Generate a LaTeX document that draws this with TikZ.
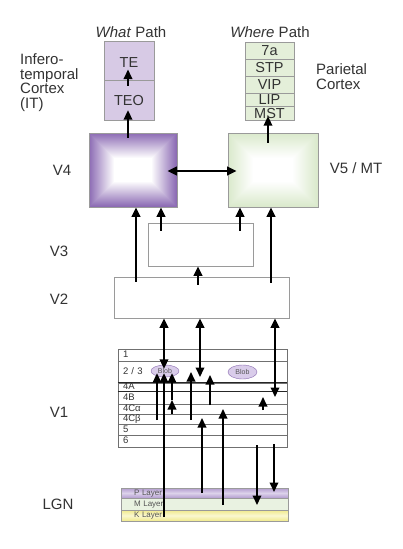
\documentclass[tikz,border=0pt]{standalone}
\usepackage{fontspec}
\setmainfont{Liberation Sans}
\usetikzlibrary{arrows.meta, shapes.geometric, backgrounds}
\definecolor{txtgray}{HTML}{333333}
\definecolor{boxgray}{HTML}{9A9A9A}
\definecolor{rowgray}{HTML}{707070}
\definecolor{itfill}{HTML}{D7CAE5}
\definecolor{parfill}{HTML}{E4EFD9}
\definecolor{vfourpurple}{HTML}{8C6BB4}
\definecolor{vfivegreen}{HTML}{DAE9CC}
\definecolor{blobfill}{HTML}{D9CCEA}
\definecolor{blobline}{HTML}{8A6CB0}
\definecolor{lgnP}{HTML}{B39CD0}
\definecolor{lgnPlight}{HTML}{DCD2EA}
\definecolor{lgnM}{HTML}{E9F2E1}
\definecolor{lgnK}{HTML}{F0E98A}
\definecolor{lgnKlight}{HTML}{FAF7D0}
\definecolor{lgntxt}{HTML}{555555}
\tikzset{
  lbl/.style  ={font=\fontsize{15}{14.5}\selectfont, text=txtgray, inner sep=0pt, align=left},
  cell/.style ={draw=boxgray, inner sep=0pt, text=txtgray, text height=10.5pt, text depth=0pt,
                font=\fontsize{14.5}{15}\selectfont},
  area/.style ={draw=boxgray, line width=0.7pt, inner sep=0pt},
  lyr/.style  ={draw=rowgray, line width=0.5pt, text width=159pt, inner xsep=5pt, inner ysep=0pt,
                align=left, text=txtgray, text height=6.5pt, text depth=1pt, font=\fontsize{9.5}{9.5}\selectfont},
  rule/.style ={line width=1pt, black!85},
  blob/.style ={ellipse, draw=blobline, fill=blobfill, inner sep=0pt, text=lgntxt,
                font=\fontsize{7}{7}\selectfont},
  lgn/.style  ={draw=boxgray, text width=141pt, inner xsep=13pt, inner ysep=0pt, align=left,
                text=lgntxt, text height=5.5pt, text depth=1pt, font=\fontsize{8}{8}\selectfont},
  arr/.style  ={-{Triangle[length=9.5pt,width=8.5pt]}, line width=2pt},
  dbl/.style  ={{Triangle[length=9.5pt,width=8.5pt]}-{Triangle[length=9.5pt,width=8.5pt]}, line width=2pt},
}
\begin{document}
\begin{tikzpicture}[x=1pt, y=-1pt]
  \useasboundingbox (0,0) rectangle (402,549);

  % labels
  \node[lbl] (whatlbl)  at (131,32) {\textit{What} Path};
  \node[lbl] (wherelbl) at (270,32) {\textit{Where} Path};
  \node[lbl, anchor=west] (itlbl)  at (20,82.5) {Infero-\\temporal\\Cortex\\(IT)};
  \node[lbl, anchor=west] (parlbl) at (316,76.5) {Parietal\\Cortex};
  \node[lbl] (vfourlbl) at (62,170)  {V4};
  \node[lbl] (vfivelbl) at (356,168) {V5 / MT};
  \node[lbl] (vthreelbl) at (59,251) {V3};
  \node[lbl] (vtwolbl)  at (59,299)  {V2};
  \node[lbl] (vonelbl)  at (59,412)  {V1};
  \node[lbl] (lgnlbl)   at (58,504)  {LGN};

  % cortex areas
  \node[cell, fill=itfill, minimum width=50pt, minimum height=39pt, text height=14.4pt] (TE) at (129,60.5) {TE};
  \node[cell, fill=itfill, minimum width=50pt, minimum height=40pt] (TEO) at (129,100) {TEO};
  \foreach \nm/\yc/\hh/\txt in {wsa/50.5/17/7a, STP/67.5/17/STP, VIP/84.5/17/VIP, LIP/99.5/13/LIP, MST/113/14/MST}
    \node[cell, fill=parfill, minimum width=49pt, minimum height=\hh pt] (\nm) at (269.5,\yc) {\txt};

  \node[area, minimum width=88pt,  minimum height=74pt] (V4) at (133,170) {};
  \node[area, minimum width=90pt,  minimum height=74pt] (V5) at (273,170) {};
  \node[area, minimum width=105pt, minimum height=43pt] (V3) at (200.5,244.5) {};
  \node[area, minimum width=175pt, minimum height=41pt] (V2) at (201.5,297.5) {};

  \begin{scope}[on background layer]
    \fill[white] (0,0) rectangle (402,549);
    \foreach \i in {0,...,25}{
      \pgfmathtruncatemacro\pct{100-4*\i}
      \fill[vfourpurple!\pct!white] ([shift={(\i pt,-\i pt)}]V4.north west) rectangle ([shift={(-\i pt,\i pt)}]V4.south east);
      \fill[vfivegreen!\pct!white] ([shift={(\i pt,-\i pt)}]V5.north west) rectangle ([shift={(-\i pt,\i pt)}]V5.south east);
    }
  \end{scope}

  % V1 layers
  \foreach \nm/\yc/\hh/\txt in {L1/355/12/1, L23/372/22/{2 / 3}, L4A/387/8/4A, L4B/397.5/13/4B,
                                L4Ca/409/10/4Cα, L4Cb/419/10/4Cβ, L5/429.5/11/5, L6/441/12/6}
    \node[lyr, minimum height=\hh pt] (\nm) at (202.5,\yc) {\txt};
  \draw[rule] (L4A.north west) -- (L4A.north east) (L4A.south west) -- (L4A.south east);
  \node[blob, minimum width=28pt, minimum height=12pt] (blobA) at (165,371) {Blob};
  \node[blob, minimum width=29pt, minimum height=14pt] (blobB) at (242.5,372) {Blob};

  % LGN layers
  \node[lgn, top color=lgnP, bottom color=lgnP, middle color=lgnPlight, minimum height=10pt] (Plyr) at (204.5,493) {P Layer};
  \node[lgn, fill=lgnM, minimum height=12pt] (Mlyr) at (204.5,504) {M Layer};
  \node[lgn, top color=lgnK, bottom color=lgnK, middle color=lgnKlight, minimum height=11pt] (Klyr) at (204.5,515.5) {K Layer};

  % higher connections
  \draw[arr] ([xshift=-1pt,yshift=-6pt]TEO.north) -- ([xshift=-1pt,yshift=-9pt]TE.center);
  \draw[arr] ([xshift=-5pt,yshift=-5pt]V4.north) -- ([xshift=-1pt,yshift=10pt]TEO.south);
  \draw[arr] ([xshift=-5pt,yshift=-10pt]V5.north) -- ([xshift=-1.5pt,yshift=4pt]MST.south);
  \draw[dbl] ([xshift=-10pt,yshift=-1pt]V4.east) -- ([xshift=9pt,yshift=-1pt]V5.west);
  \draw[arr] ([xshift=-65.5pt,yshift=-5pt]V2.north) -- ([xshift=3pt]V4.south);
  \draw[arr] ([xshift=-39.5pt,yshift=-8pt]V3.north) -- ([xshift=28pt]V4.south);
  \draw[arr] ([xshift=39.5pt,yshift=-8pt]V3.north) -- ([xshift=-33pt]V5.south);
  \draw[arr] ([xshift=69.5pt,yshift=-6pt]V2.north) -- ([xshift=-2pt]V5.south);
  \draw[arr] ([xshift=-3.5pt,yshift=-8pt]V2.north) -- ([xshift=-2.5pt]V3.south);

  % V1, V2 and LGN connections
  \draw[arr] ([xshift=-40.5pt,yshift=-1.5pt]Klyr.center) -- ([xshift=-1pt,yshift=4pt]blobA.south);
  \draw[dbl] ([xshift=-37.5pt]V2.south) -- ([xshift=-1pt,yshift=-4pt]blobA.north);
  \draw[arr] ([xshift=-45.5pt,yshift=-1pt]L4Cb.center) -- ([xshift=-8pt,yshift=4pt]blobA.south);
  \draw[arr] ([xshift=-30.5pt,yshift=-5pt]L4Ca.center) -- ([xshift=-30.5pt,yshift=-2.5pt]L4B.center);
  \draw[arr] ([xshift=-30.5pt,yshift=-2.5pt]L4B.center) -- ([xshift=7pt,yshift=4pt]blobA.south);
  \draw[arr] ([xshift=-11.5pt,yshift=-1pt]L4Cb.center) -- ([xshift=-11.5pt]L23.center);
  \draw[dbl] ([xshift=-1.5pt]V2.south) -- ([xshift=-2.5pt,yshift=-5pt]L23.center);
  \draw[arr] ([xshift=7.5pt,yshift=4pt]L4Ca.center) -- ([xshift=7.5pt,yshift=-3pt]L23.center);
  \draw[arr] ([xshift=-2.5pt]Plyr.center) -- ([xshift=-0.5pt,yshift=1pt]L4Cb.center);
  \draw[arr] ([xshift=18.5pt,yshift=-1pt]Mlyr.center) -- ([xshift=20.5pt]L4Ca.center);
  \draw[dbl] ([xshift=73.5pt]V2.south) -- ([xshift=72.5pt,yshift=0.5pt]L4B.center);
  \draw[arr] ([xshift=60.5pt,yshift=-1pt]L4Ca.center) -- ([xshift=60.5pt,yshift=0.5pt]L4B.center);
  \draw[arr] ([xshift=54.5pt,yshift=-4pt]L6.center) -- ([xshift=52.5pt,yshift=-1pt]Mlyr.center);
  \draw[arr] ([xshift=71.5pt,yshift=-3pt]L6.center) -- ([xshift=69.5pt,yshift=1pt]Plyr.center);
\end{tikzpicture}
\end{document}
